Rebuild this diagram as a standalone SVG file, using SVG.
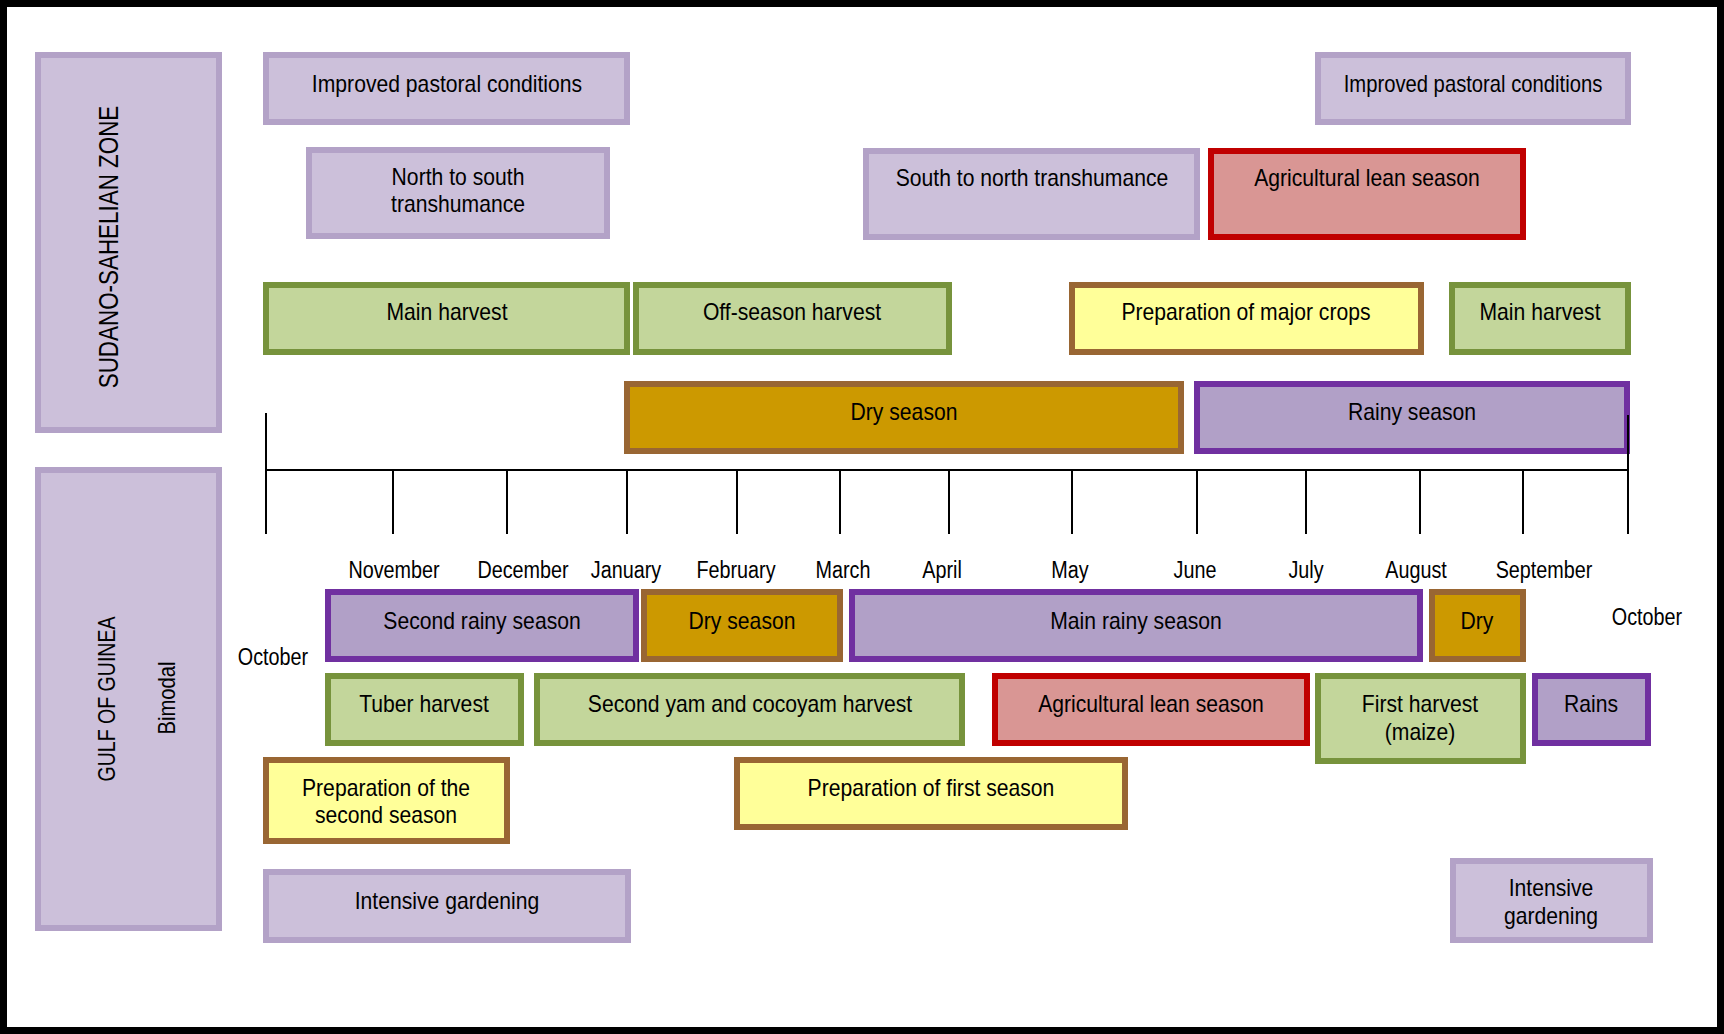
<svg xmlns="http://www.w3.org/2000/svg" width="1724" height="1034" viewBox="0 0 1724 1034">
<style>
rect.b{stroke-width:6}
.lav{fill:#CCC0DA;stroke:#B3A2C7}
.red{fill:#D99694;stroke:#C00000}
.grn{fill:#C3D69B;stroke:#77933C}
.yel{fill:#FFFF99;stroke:#996633}
.gold{fill:#CC9900;stroke:#996633}
.pur{fill:#B1A0C7;stroke:#7030A0}
text{font-family:"Liberation Sans",Arial,sans-serif;font-size:23px;text-anchor:middle;fill:#000}
text.m{font-size:23px}
text.z{font-size:27px}
.ax line{stroke:#000;stroke-width:2}
</style>
<rect x="0" y="0" width="1724" height="1034" fill="#fff"/>
<rect x="3.5" y="3.5" width="1717" height="1027" fill="none" stroke="#000" stroke-width="7"/>

<g id="zone-sudano"><rect class="b lav" x="38" y="55" width="181" height="375"/>
<text class="z" transform="translate(118,247) rotate(-90) scale(0.83,1)">SUDANO-SAHELIAN ZONE</text></g>
<g id="zone-gulf"><rect class="b lav" x="38" y="470" width="181" height="458"/>
<text transform="translate(115,699) rotate(-90) scale(0.85,1)">GULF OF GUINEA</text>
<text transform="translate(175,698) rotate(-90) scale(0.88,1)">Bimodal</text></g>

<g id="pastoral-1"><rect class="b lav" x="266" y="55" width="361" height="67"/>
<text transform="translate(447,92) scale(0.92,1)">Improved pastoral conditions</text></g>
<g id="pastoral-2"><rect class="b lav" x="1318" y="55" width="310" height="67"/>
<text transform="translate(1473,92) scale(0.88,1)">Improved pastoral conditions</text></g>
<g id="transhumance-ns"><rect class="b lav" x="309" y="150" width="298" height="86"/>
<text transform="translate(458,185) scale(0.92,1)">North to south</text>
<text transform="translate(458,212) scale(0.92,1)">transhumance</text></g>
<g id="transhumance-sn"><rect class="b lav" x="866" y="151" width="331" height="86"/>
<text transform="translate(1032,186) scale(0.92,1)">South to north transhumance</text></g>
<g id="lean-1"><rect class="b red" x="1211" y="151" width="312" height="86"/>
<text transform="translate(1367,186) scale(0.92,1)">Agricultural lean season</text></g>

<g id="main-harvest-1"><rect class="b grn" x="266" y="285" width="361" height="67"/>
<text transform="translate(447,320) scale(0.92,1)">Main harvest</text></g>
<g id="offseason-harvest"><rect class="b grn" x="636" y="285" width="313" height="67"/>
<text transform="translate(792,320) scale(0.92,1)">Off-season harvest</text></g>
<g id="prep-major"><rect class="b yel" x="1072" y="285" width="349" height="67"/>
<text transform="translate(1246,320) scale(0.92,1)">Preparation of major crops</text></g>
<g id="main-harvest-2"><rect class="b grn" x="1452" y="285" width="176" height="67"/>
<text transform="translate(1540,320) scale(0.92,1)">Main harvest</text></g>

<g id="dry-season-1"><rect class="b gold" x="627" y="384" width="554" height="67"/>
<text transform="translate(904,420) scale(0.92,1)">Dry season</text></g>
<g id="rainy-season-1"><rect class="b pur" x="1197" y="384" width="430" height="67"/>
<text transform="translate(1412,420) scale(0.92,1)">Rainy season</text></g>

<g id="connectors" class="ax">
<line x1="266" y1="470" x2="1628" y2="470"/>
<line x1="266" y1="413" x2="266" y2="534"/>
<line x1="1628" y1="415" x2="1628" y2="534"/>
<line x1="393" y1="470" x2="393" y2="534"/>
<line x1="507" y1="470" x2="507" y2="534"/>
<line x1="627" y1="470" x2="627" y2="534"/>
<line x1="737" y1="470" x2="737" y2="534"/>
<line x1="840" y1="470" x2="840" y2="534"/>
<line x1="949" y1="470" x2="949" y2="534"/>
<line x1="1072" y1="470" x2="1072" y2="534"/>
<line x1="1197" y1="470" x2="1197" y2="534"/>
<line x1="1306" y1="470" x2="1306" y2="534"/>
<line x1="1420" y1="470" x2="1420" y2="534"/>
<line x1="1523" y1="470" x2="1523" y2="534"/>
</g>

<g id="months">
<text transform="translate(394,578) scale(0.86,1)">November</text>
<text transform="translate(523,578) scale(0.86,1)">December</text>
<text transform="translate(626,578) scale(0.86,1)">January</text>
<text transform="translate(736,578) scale(0.86,1)">February</text>
<text transform="translate(843,578) scale(0.86,1)">March</text>
<text transform="translate(942,578) scale(0.86,1)">April</text>
<text transform="translate(1070,578) scale(0.86,1)">May</text>
<text transform="translate(1195,578) scale(0.86,1)">June</text>
<text transform="translate(1306,578) scale(0.86,1)">July</text>
<text transform="translate(1416,578) scale(0.86,1)">August</text>
<text transform="translate(1544,578) scale(0.86,1)">September</text>
<text transform="translate(273,665) scale(0.86,1)">October</text>
<text transform="translate(1647,625) scale(0.86,1)">October</text>
</g>

<g id="second-rainy"><rect class="b pur" x="328" y="592" width="308" height="67"/>
<text transform="translate(482,629) scale(0.92,1)">Second rainy season</text></g>
<g id="dry-season-2"><rect class="b gold" x="644" y="592" width="196" height="67"/>
<text transform="translate(742,629) scale(0.92,1)">Dry season</text></g>
<g id="main-rainy"><rect class="b pur" x="852" y="592" width="568" height="67"/>
<text transform="translate(1136,629) scale(0.92,1)">Main rainy season</text></g>
<g id="dry-short"><rect class="b gold" x="1432" y="592" width="91" height="67"/>
<text transform="translate(1477,629) scale(0.92,1)">Dry</text></g>

<g id="tuber-harvest"><rect class="b grn" x="328" y="676" width="193" height="67"/>
<text transform="translate(424,712) scale(0.92,1)">Tuber harvest</text></g>
<g id="yam-harvest"><rect class="b grn" x="537" y="676" width="425" height="67"/>
<text transform="translate(750,712) scale(0.92,1)">Second yam and cocoyam harvest</text></g>
<g id="lean-2"><rect class="b red" x="995" y="676" width="312" height="67"/>
<text transform="translate(1151,712) scale(0.92,1)">Agricultural lean season</text></g>
<g id="first-harvest"><rect class="b grn" x="1318" y="676" width="205" height="85"/>
<text transform="translate(1420,712) scale(0.92,1)">First harvest</text>
<text transform="translate(1420,740) scale(0.92,1)">(maize)</text></g>
<g id="rains"><rect class="b pur" x="1535" y="676" width="113" height="67"/>
<text transform="translate(1591,712) scale(0.92,1)">Rains</text></g>

<g id="prep-second"><rect class="b yel" x="266" y="760" width="241" height="81"/>
<text transform="translate(386,796) scale(0.92,1)">Preparation of the</text>
<text transform="translate(386,823) scale(0.92,1)">second season</text></g>
<g id="prep-first"><rect class="b yel" x="737" y="760" width="388" height="67"/>
<text transform="translate(931,796) scale(0.92,1)">Preparation of first season</text></g>

<g id="gardening-1"><rect class="b lav" x="266" y="872" width="362" height="68"/>
<text transform="translate(447,909) scale(0.92,1)">Intensive gardening</text></g>
<g id="gardening-2"><rect class="b lav" x="1453" y="861" width="197" height="79"/>
<text transform="translate(1551,896) scale(0.92,1)">Intensive</text>
<text transform="translate(1551,924) scale(0.92,1)">gardening</text></g>
</svg>
